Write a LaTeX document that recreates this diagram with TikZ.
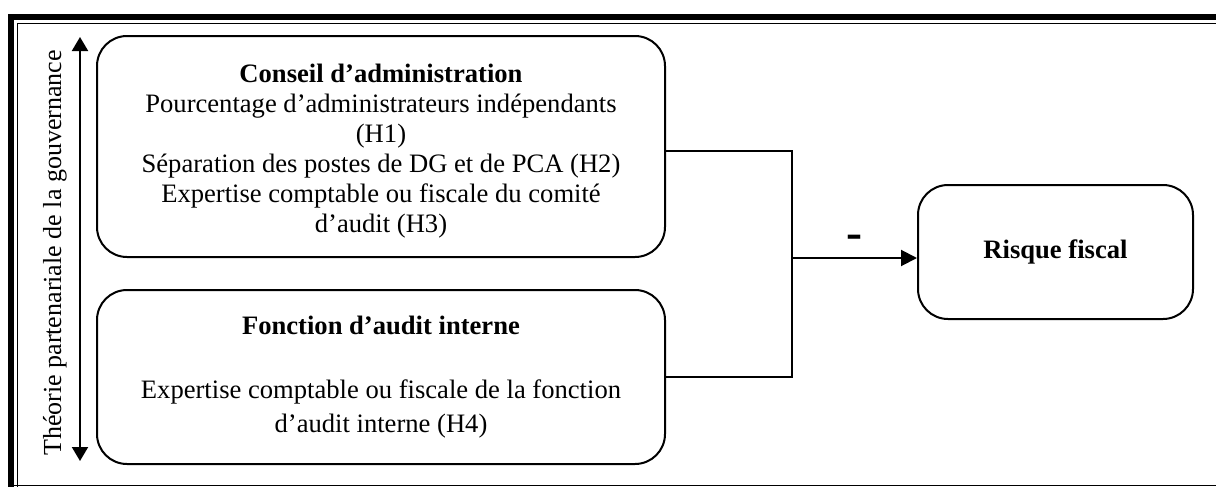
\documentclass[tikz,border=0pt]{standalone}
\usepackage{fontspec}
\setmainfont{Liberation Serif}
\usetikzlibrary{positioning}
\usetikzlibrary{arrows.meta}
\newcommand{\corpsTexte}{\fontsize{13.3}{15}\selectfont}
\newcommand{\corpsAere}{\fontsize{13.3}{17}\selectfont}
\newcommand{\texteVertical}{\fontsize{13}{15}\selectfont}
\newcommand{\signeMoins}{\fontsize{24}{24}\selectfont\bfseries}

\begin{document}
\begin{tikzpicture}[x=0.5pt,y=-0.5pt,align=center,node distance=15.5pt,
boite/.style={draw,line width=1pt,rounded corners=15pt,inner sep=0pt},
texteC/.style={font=\corpsTexte,inner sep=0pt,anchor=center},
cadreEpais/.style={line width=3pt},
cadreFin/.style={line width=0.5pt},
trait/.style={line width=1pt},
fleche/.style={trait,-{Triangle[width=8pt,length=8pt]}},
doubleFleche/.style={trait,{Triangle[width=8pt,length=7pt]}-{Triangle[width=8pt,length=7pt]}}
]
\useasboundingbox (0,0) rectangle (1216,487);
%-- cadre
\draw[cadreEpais] (11,487) -- (11,17) -- (1216,17);
\draw[cadreFin] (17,487) -- (17,23) -- (1216,23);
\draw[cadreFin] (8,485) -- (1216,485);
%--
\node[rotate=90,font=\texteVertical] (theorie) at (55,253) {Théorie partenariale de la gouvernance};
\coordinate (haut) at (80,37);
\coordinate (bas) at (80,461);
\draw[doubleFleche] (haut) -- (bas);
%--
\node[boite,minimum width=284pt,minimum height=110.5pt] (ca) at (381,146.5){};
\node[texteC] (tca) at ([yshift=-2.25pt]ca.center){\textbf{Conseil d'administration}\\Pourcentage d'administrateurs indépendants\\(H1)\\Séparation des postes de DG et de PCA (H2)\\Expertise comptable ou fiscale du comité\\d'audit (H3)};
%--
\node[boite,minimum width=284pt,minimum height=87pt,below = of ca](fai){};
\node[texteC,font=\corpsAere] (tfai) at (fai.center){\textbf{Fonction d'audit interne}\\[15pt]Expertise comptable ou fiscale de la fonction\\d'audit interne (H4)};
%--
\node[boite,minimum width=137.5pt,minimum height=67pt] (rf) at (1055.5,252){};
\node[texteC] (trf) at (rf.center){\textbf{Risque fiscal}};
%--
\coordinate (jonction) at (792,258);
\draw[trait] ([yshift=-2.25pt]ca.east) -| (jonction) |- (fai.east);
\draw[fleche] (jonction) -- (rf.west |- jonction) node[midway,yshift=8pt,font=\signeMoins]{-};
\end{tikzpicture}
\end{document}
